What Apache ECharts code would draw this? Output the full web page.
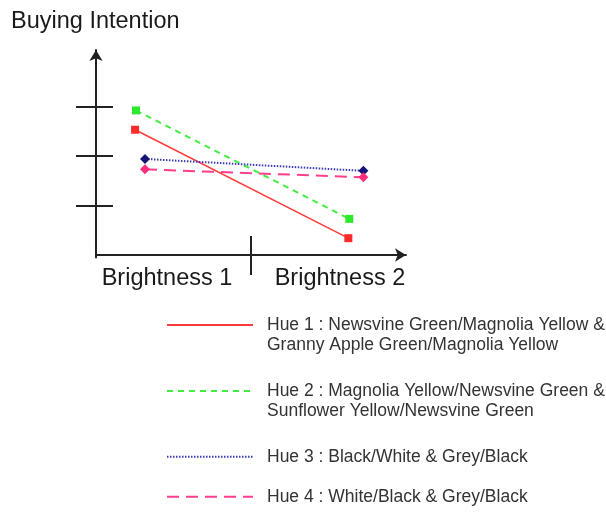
<!DOCTYPE html>
<html>
<head>
<meta charset="utf-8">
<script src="https://cdn.jsdelivr.net/npm/echarts@6/dist/echarts.min.js"></script>
<style>
  html, body { margin: 0; padding: 0; background: #fff; }
  #chart { width: 606px; height: 514px; }
</style>
</head>
<body>
<div id="chart"></div>
<script>
// x position of each point (1 = the Brightness 1 / Brightness 2 divider)
const categoryLabels = ["Brightness 1", "Brightness 2"];
const categoryLabelPos = [0.458, 1.574];
const dividerPos = [1];
const yTickValues = [1, 2, 3];

const seriesNames = [
  "Hue 1 : Newsvine Green/Magnolia Yellow &\nGranny Apple Green/Magnolia Yellow",
  "Hue 2 : Magnolia Yellow/Newsvine Green &\nSunflower Yellow/Newsvine Green",
  "Hue 3 : Black/White & Grey/Black",
  "Hue 4 : White/Black & Grey/Black"
];
const hue1 = [[0.252, 2.53], [1.628, 0.34]];
const hue2 = [[0.258, 2.92], [1.634, 0.73]];
const hue3 = [[0.316, 1.94], [1.725, 1.70]];
const hue4 = [[0.316, 1.73], [1.725, 1.57]];

const chart = echarts.init(document.getElementById("chart"));
const font = "'Liberation Sans', Arial, sans-serif";
const axisColor = "#222";

function lineSeries(name, data, color, symbolColor, symbol, size, type, width) {
  return {
    name: name,
    type: "line",
    data: data,
    symbol: symbol,
    symbolSize: size,
    color: color,
    itemStyle: { color: symbolColor },
    lineStyle: { color: color, type: type, width: width },
    animation: false
  };
}

function legendItem(name, top, twoLines) {
  return {
    data: [name],
    left: 166,
    top: top,
    padding: 0,
    itemWidth: 86,
    itemHeight: 14,
    selectedMode: false,
    itemStyle: { opacity: 0, borderWidth: 0 },
    // blank first line keeps the icon level with the first text line
    formatter: function (n) { return twoLines ? "\n" + n : n; },
    textStyle: {
      fontFamily: font,
      fontSize: 17.5,
      color: "#333",
      lineHeight: 20,
      padding: [0, 0, 0, 9]
    }
  };
}

const option = {
  backgroundColor: "#fff",
  title: {
    text: "Buying Intention",
    left: 11,
    top: 10,
    padding: 0,
    textStyle: { fontFamily: font, fontSize: 23.5, fontWeight: "normal", color: "#1a1a1a" }
  },
  legend: [
    legendItem(seriesNames[0], 295, true),
    legendItem(seriesNames[1], 361, true),
    legendItem(seriesNames[2], 446.7, false),
    legendItem(seriesNames[3], 486.7, false)
  ],
  grid: { left: 96, right: 200, top: 50, bottom: 256.5 },
  xAxis: [
    {
      type: "value",
      min: 0,
      max: 2,
      splitLine: { show: false },
      axisLine: {
        lineStyle: { color: axisColor, width: 2 },
        symbol: ["none", "arrow"],
        symbolSize: [10, 11]
      },
      axisTick: { show: true, inside: false, length: 20, customValues: dividerPos, lineStyle: { color: axisColor, width: 2 } },
      axisLabel: {
        show: true,
        customValues: categoryLabelPos,
        formatter: function (v) { return categoryLabels[categoryLabelPos.indexOf(v)]; },
        margin: 9,
        fontFamily: font,
        fontSize: 23.5,
        color: "#1a1a1a"
      }
    },
    {
      type: "value",
      min: 0,
      max: 2,
      position: "bottom",
      splitLine: { show: false },
      axisLine: { show: false },
      axisTick: { show: true, inside: true, length: 19, customValues: dividerPos, lineStyle: { color: axisColor, width: 2 } },
      axisLabel: { show: false }
    }
  ],
  yAxis: [
    {
      type: "value",
      min: -0.05,
      max: 4.14,
      splitLine: { show: false },
      axisLine: {
        lineStyle: { color: axisColor, width: 2 },
        symbol: ["none", "arrow"],
        symbolSize: [10, 11]
      },
      axisTick: { show: true, inside: false, length: 20, customValues: yTickValues, lineStyle: { color: axisColor, width: 2 } },
      axisLabel: { show: false }
    },
    {
      type: "value",
      min: -0.05,
      max: 4.14,
      position: "left",
      splitLine: { show: false },
      axisLine: { show: false },
      axisTick: { show: true, inside: true, length: 17, customValues: yTickValues, lineStyle: { color: axisColor, width: 2 } },
      axisLabel: { show: false }
    }
  ],
  series: [
    lineSeries(seriesNames[0], hue1, "#ff3b3b", "#ff2a2a", "rect", 8, "solid", 1.5),
    lineSeries(seriesNames[1], hue2, "#40ee40", "#2ee82e", "rect", 8, [6, 5], 2),
    lineSeries(seriesNames[2], hue3, "#3a3ab4", "#141478", "diamond", 10, [1.5, 1.5], 2),
    lineSeries(seriesNames[3], hue4, "#ff3d8b", "#ff2d7d", "diamond", 10, [12, 7], 2)
  ]
};
chart.setOption(option);
</script>
</body>
</html>
